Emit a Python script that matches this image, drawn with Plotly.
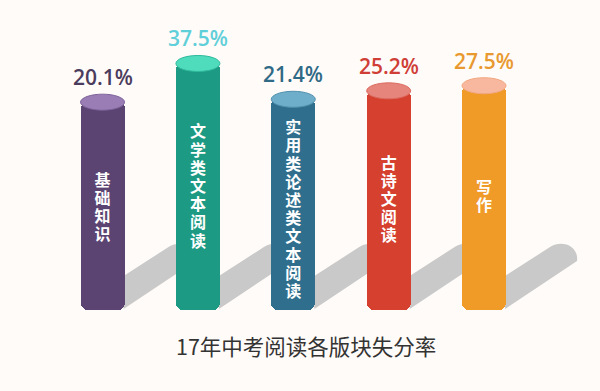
import plotly.graph_objects as go

categories = ["基础知识", "文学类文本阅读", "实用类论述类文本阅读", "古诗文阅读", "写作"]
values = [20.1, 37.5, 21.4, 25.2, 27.5]
value_labels = ["20.1%", "37.5%", "21.4%", "25.2%", "27.5%"]
title_text = "17年中考阅读各版块失分率"

# style
BASE = -73.3
PX_PER_UNIT = 2.225
BASE_PX = 310
body_colors = ["#5b4472", "#1d9a83", "#2f6f8d", "#d5402f", "#f09a28"]
cap_colors = ["#9b7db6", "#4fdcbc", "#6eaecb", "#e5857c", "#f8b8a0"]
cap_lines = ["#7d629a", "#30b99c", "#4f8fac", "#dc6a60", "#f1a77f"]
label_colors = ["#4b3c5d", "#5fcfd9", "#2f6a86", "#cf3e37", "#e8992f"]
text_center_px = [209, 188, 211, 201, 198]
W, H = 600, 391
BG = "#fffbf8"

xs = list(range(len(categories)))

fig = go.Figure()
fig.add_trace(go.Bar(
    x=xs,
    y=[BASE - v for v in values],
    base=values,
    width=0.461,
    marker=dict(color=body_colors, line=dict(width=0), cornerradius=7),
    hoverinfo="skip",
    showlegend=False,
))

# vertical category text inside bars, one character per line
tx, ty, tt = [], [], []
step = 18.2
for i, cat in enumerate(categories):
    n = len(cat)
    for k, ch in enumerate(cat):
        py = text_center_px[i] + (k - (n - 1) / 2) * step
        tx.append(i)
        ty.append(BASE + (BASE_PX - py) / PX_PER_UNIT)
        tt.append(ch)
fig.add_trace(go.Scatter(
    x=tx, y=ty, text=tt, mode="text",
    textfont=dict(family="Noto Sans CJK SC", size=16, color="white", weight=700),
    hoverinfo="skip", showlegend=False,
))

shapes = []
shadow_path = "M 21,1 L 21,34 L 66,63 C 78,71 95,64 93,49 L 21,1 Z"
for i, v in enumerate(values):
    shapes.append(dict(
        type="path", layer="below",
        xref="x", yref="y", xsizemode="pixel", ysizemode="pixel",
        xanchor=i, yanchor=BASE,
        path=shadow_path,
        fillcolor="#c9c9c9", line=dict(width=0),
    ))
    shapes.append(dict(
        type="circle", layer="above",
        xref="x", yref="y", xsizemode="pixel", ysizemode="pixel",
        xanchor=i, yanchor=v,
        x0=-22, x1=22, y0=-8, y1=8,
        fillcolor=cap_colors[i], line=dict(color=cap_lines[i], width=1),
    ))

annotations = []
for i, v in enumerate(values):
    annotations.append(dict(
        x=i, y=v, xref="x", yref="y", yshift=25,
        text=value_labels[i], showarrow=False,
        font=dict(family="Open Sans", size=21, color=label_colors[i], weight=600),
    ))

annotations.append(dict(
    x=306 / W, y=1 - 363 / H, xref="paper", yref="paper",
    text=title_text, showarrow=False,
    font=dict(family="Noto Sans CJK SC", size=21.5, color="#333333"),
))

fig.update_layout(
    width=W, height=H,
    margin=dict(l=0, r=0, t=0, b=0),
    paper_bgcolor=BG, plot_bgcolor=BG,
    xaxis=dict(range=[-1.075, 5.216], visible=False, fixedrange=True),
    yaxis=dict(range=[BASE - (H - BASE_PX) / PX_PER_UNIT, BASE + BASE_PX / PX_PER_UNIT],
               visible=False, fixedrange=True),
    shapes=shapes, annotations=annotations,
    bargap=0,
)

fig.write_html("out.html", config={"displayModeBar": False},
               post_script="document.body.style.margin='0px';")
